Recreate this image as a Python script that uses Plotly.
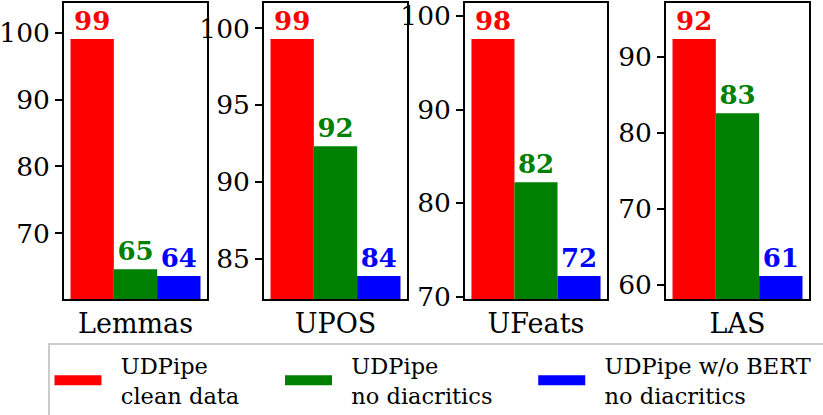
import plotly.graph_objects as go

# ---- data ----
metrics = ["Lemmas", "UPOS", "UFeats", "LAS"]
series_names = [["UDPipe", "clean data"], ["UDPipe", "no diacritics"], ["UDPipe w/o BERT", "no diacritics"]]
clean_data = [99.06, 99.3, 97.55, 92.3]
no_diacritics = [64.6, 92.33, 82.24, 82.55]
no_bert_no_diacritics = [63.6, 83.9, 72.2, 61.2]
y_dticks = [10, 5, 10, 10]

colors = ["#ff0000", "#008000", "#0000ff"]
FONT = "DejaVu Serif"
W, H = 823, 415

series = [clean_data, no_diacritics, no_bert_no_diacritics]

fig = go.Figure()

panel_px = [(64, 207), (264, 407), (465, 607), (666, 809)]
y_dom = [1 - 299 / H, 1 - 3 / H]

for i, m in enumerate(metrics):
    xa = "x" if i == 0 else f"x{i+1}"
    ya = "y" if i == 0 else f"y{i+1}"
    for s, (vals, col) in enumerate(zip(series, colors)):
        v = vals[i]
        fig.add_trace(go.Bar(
            x=[m], y=[v], xaxis=xa, yaxis=ya,
            marker=dict(color=col, line=dict(width=0)),
            text=[f"{v:.0f}"], textposition="outside",
            textfont=dict(family=FONT, size=26, color=col, weight="bold"),
            cliponaxis=False, showlegend=False, offsetgroup=str(s),
        ))
    vals_here = [clean_data[i], no_diacritics[i], no_bert_no_diacritics[i]]
    lo, hi = min(vals_here), max(vals_here)
    d = hi - lo
    rng = [lo - 0.097 * d, hi + 0.152 * d]
    x0, x1 = panel_px[i]
    xkey = "xaxis" if i == 0 else f"xaxis{i+1}"
    ykey = "yaxis" if i == 0 else f"yaxis{i+1}"
    fig.update_layout(**{
        xkey: dict(domain=[x0 / W, x1 / W], anchor=ya, type="category",
                   showline=True, linecolor="black", linewidth=1.5, mirror=True,
                   ticks="", showgrid=False, zeroline=False, automargin=False,
                   tickfont=dict(family=FONT, size=27, color="black"),
                   range=[-0.5, 0.5], fixedrange=True),
        ykey: dict(domain=y_dom, anchor=xa, range=rng, dtick=y_dticks[i],
                   showline=True, linecolor="black", linewidth=1.5, mirror=True,
                   ticks="outside", ticklen=7, tickwidth=1.5, tickcolor="black",
                   showgrid=False, zeroline=False, automargin=False,
                   tickfont=dict(family=FONT, size=26.5, color="black")),
    })

# legend entries with wide patches (leading/trailing spaces mimic the spacing)
NB = "\u00a0"
pad = NB * 2
trail = [["", NB * 5], ["", NB * 5], [NB * 1, ""]]
for lines, col, tr in zip(series_names, colors, trail):
    name = "<br>".join(pad + t + tr[k] for k, t in enumerate(lines))
    fig.add_trace(go.Scatter(
        x=[None], y=[None], mode="lines", name=name,
        line=dict(color=col, width=16), xaxis="x", yaxis="y",
    ))

fig.update_layout(
    width=W, height=H,
    margin=dict(l=0, r=0, t=0, b=0, autoexpand=False),
    paper_bgcolor="white", plot_bgcolor="white",
    barmode="group", bargap=0.091, bargroupgap=0,
    font=dict(family=FONT, color="black"),
    legend=dict(
        orientation="h", x=48 / W, y=1 - 343 / H, xanchor="left", yanchor="top",
        font=dict(family=FONT, size=22.5, color="black"),
        bgcolor="white", bordercolor="#cccccc", borderwidth=1.5,
        itemwidth=47, tracegroupgap=0,
    ),
)

fig.write_html("out.html", config={"displayModeBar": False},
               post_script="document.body.style.margin='0';")
